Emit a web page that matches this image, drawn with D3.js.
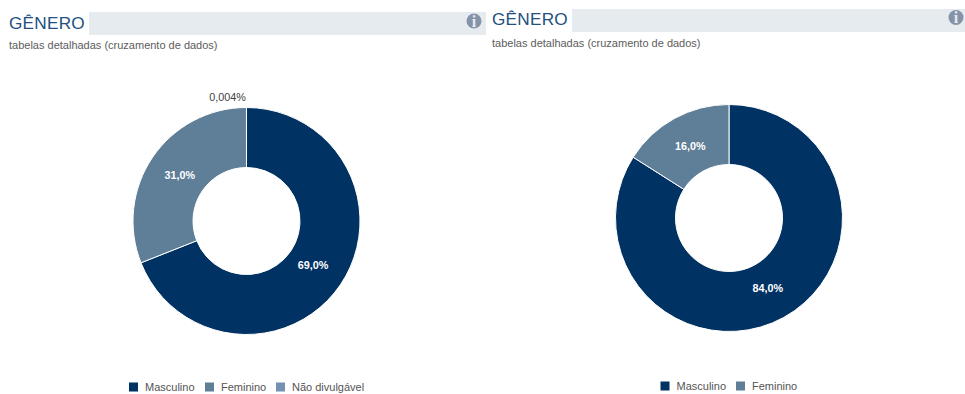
<!DOCTYPE html>
<html>
<head>
<meta charset="utf-8">
<script src="https://cdn.jsdelivr.net/npm/d3@7/dist/d3.min.js"></script>
<style>
html,body{margin:0;padding:0;background:#fff;overflow:hidden}
svg{display:block}
text{font-family:"Liberation Sans",Arial,sans-serif}
</style>
</head>
<body>
<svg id="chart" width="965" height="394"></svg>
<script>
const leftCategories = ["Masculino", "Feminino", "Não divulgável"];
const leftValues = [69.0, 31.0, 0.004];
const leftLabels = ["69,0%", "31,0%", "0,004%"];

const rightCategories = ["Masculino", "Feminino"];
const rightValues = [84.0, 16.0];
const rightLabels = ["84,0%", "16,0%"];

const titleText = "GÊNERO";
const subtitleText = "tabelas detalhadas (cruzamento de dados)";
const sliceColors = ["#003263", "#5f7e97", "#7491b2"];

const svg = d3.select("#chart");

// Header band, heading, subtitle and info icon of one panel.
function drawHeader(cfg) {
  const g = svg.append("g");
  g.append("rect").attr("x", cfg.bandX).attr("y", cfg.bandY)
    .attr("width", cfg.bandW).attr("height", 23).attr("fill", "#e6ebf0");
  g.append("text").attr("x", cfg.titleX).attr("y", cfg.titleY)
    .attr("font-size", 17.2).attr("letter-spacing", 0.25).attr("fill", "#23507f").text(titleText);
  g.append("text").attr("x", cfg.titleX).attr("y", cfg.subtitleY)
    .attr("font-size", 11).attr("fill", "#5c5c5c").text(subtitleText);
  const icon = g.append("g").attr("transform", `translate(${cfg.iconX},${cfg.iconY})`);
  icon.append("circle").attr("r", 7.5).attr("fill", "#8593a8");
  icon.append("text").attr("text-anchor", "middle").attr("y", 5.5)
    .attr("font-size", 16).attr("font-weight", "bold")
    .style("font-family", "'Liberation Serif',serif").attr("fill", "#e6ebf0").text("i");
}

// Donut with white value labels and a legend row underneath.
function drawDonut(cfg) {
  const pie = d3.pie().sort(null).value(d => d)(cfg.values);
  const color = d3.scaleOrdinal().domain(cfg.categories).range(sliceColors);
  const arc = d3.arc().innerRadius(53.5).outerRadius(113.5);
  const labelArc = d3.arc().innerRadius(80.5).outerRadius(80.5);
  const g = svg.append("g").attr("transform", `translate(${cfg.cx},${cfg.cy})`);

  g.selectAll("path").data(pie).join("path")
    .attr("d", arc)
    .attr("fill", (d, i) => color(cfg.categories[i]))
    .attr("stroke", "#fff").attr("stroke-width", 1);

  g.selectAll("text").data(pie).join("text")
    .attr("text-anchor", "middle")
    .attr("font-size", 10.8)
    .attr("font-weight", (d, i) => d.value < 1 ? "normal" : "bold")
    .attr("fill", d => d.value < 1 ? "#404040" : "#fff")
    .attr("transform", d => {
      if (d.value < 1) return `translate(${-19},${-120.5})`;
      const [x, y] = labelArc.centroid(d);
      return `translate(${x},${y + 3})`;
    })
    .text((d, i) => cfg.labels[i]);

  const legend = svg.append("g").attr("transform", `translate(0,${cfg.legendY})`);
  cfg.categories.forEach((name, i) => {
    const x = cfg.legendX[i];
    legend.append("rect").attr("x", x).attr("y", -4.5).attr("width", 9).attr("height", 9)
      .attr("fill", color(name));
    legend.append("text").attr("x", x + 16).attr("y", 4)
      .attr("font-size", 11).attr("fill", "#555").text(name);
  });
}

drawHeader({ bandX: 89, bandY: 12, bandW: 397, titleX: 9, titleY: 29, subtitleY: 49, iconX: 474, iconY: 21 });
drawHeader({ bandX: 572, bandY: 9, bandW: 393, titleX: 492, titleY: 25, subtitleY: 47, iconX: 956, iconY: 17.5 });

drawDonut({ cx: 246.5, cy: 221, values: leftValues, categories: leftCategories,
  labels: leftLabels, legendY: 387, legendX: [129, 205, 276] });
drawDonut({ cx: 729, cy: 218, values: rightValues, categories: rightCategories,
  labels: rightLabels, legendY: 386, legendX: [660.5, 736] });
</script>
</body>
</html>
